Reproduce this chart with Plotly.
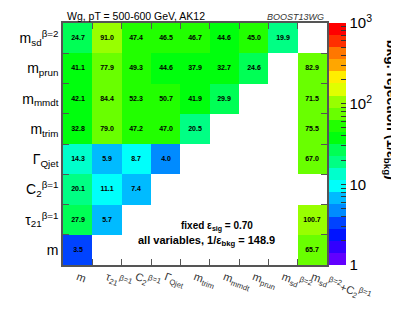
import colorsys
import math
import plotly.graph_objects as go

x_labels = ["m", "τ<sub>21</sub><sup>β=1</sup>", "C<sub>2</sub><sup>β=1</sup>", "Γ<sub>Qjet</sub>",
            "m<sub>trim</sub>", "m<sub>mmdt</sub>", "m<sub>prun</sub>", "m<sub>sd</sub><sup>β=2</sup>",
            "m<sub>sd</sub><sup>β=2</sup>+C<sub>2</sub><sup>β=1</sup>"]
y_labels = ["m", "τ<sub>21</sub><sup>β=1</sup>", "C<sub>2</sub><sup>β=1</sup>", "Γ<sub>Qjet</sub>",
            "m<sub>trim</sub>", "m<sub>mmdt</sub>", "m<sub>prun</sub>", "m<sub>sd</sub><sup>β=2</sup>"]

row_m    = [3.5, None, None, None, None, None, None, None, 65.7]
row_tau  = [27.9, 5.7, None, None, None, None, None, None, 100.7]
row_c2   = [20.1, 11.1, 7.4, None, None, None, None, None, None]
row_qjet = [14.3, 5.9, 8.7, 4.0, None, None, None, None, 67.0]
row_trim = [32.8, 79.0, 47.2, 47.0, 20.5, None, None, None, 75.5]
row_mmdt = [42.1, 84.4, 52.3, 50.7, 41.9, 29.9, None, None, 71.5]
row_prun = [41.1, 77.9, 49.3, 44.6, 37.9, 32.7, 24.6, None, 82.9]
row_sd   = [24.7, 91.0, 47.4, 46.5, 46.7, 44.6, 45.0, 19.9, None]

rows = [row_m, row_tau, row_c2, row_qjet, row_trim, row_mmdt, row_prun, row_sd]

zlog = [[(math.log10(v) if v is not None else None) for v in r] for r in rows]
text = [[(f"<b>{v:.1f}</b>" if v is not None else "") for v in r] for r in rows]

# ROOT "pretty" palette, 20 contour levels
ndiv = 20
scale = []
for i in range(ndiv):
    k = int((i + 0.99) * 50 / ndiv)
    hue = 280 - (k + 1) * 5.6
    r, g, b = colorsys.hls_to_rgb(hue / 360.0, 0.5, 1.0)
    c = f"rgb({int(r*255)},{int(g*255)},{int(b*255)})"
    scale.append([i / ndiv, c])
    scale.append([(i + 1) / ndiv, c])

cb_vals, cb_text = [], []
for d in range(3):
    for m in range(1, 10):
        cb_vals.append(math.log10(m * 10 ** d))
        cb_text.append({1: "1", 10: "10", 100: "10<sup>2</sup>"}.get(m * 10 ** d, "") if m == 1 else "")
cb_vals.append(3.0)
cb_text.append("10<sup>3</sup>")

fig = go.Figure(go.Heatmap(
    x=x_labels, y=y_labels, z=zlog, text=text, texttemplate="%{text}",
    textfont=dict(size=7, color="black", family="Liberation Sans"),
    colorscale=scale, zmin=0, zmax=3, xgap=0, ygap=0, hoverongaps=False,
    colorbar=dict(thickness=17, len=1, lenmode="fraction", y=0.5, yanchor="middle",
                  x=1.008, xanchor="left", xpad=0, ypad=0, outlinewidth=0,
                  tickmode="array", tickvals=cb_vals, ticktext=cb_text,
                  ticks="inside", ticklen=5, tickcolor="#333", tickwidth=1,
                  tickfont=dict(size=15, family="Liberation Sans", color="black")),
))

fig.update_layout(
    width=399, height=309,
    margin=dict(l=52, r=80, t=15, b=41),
    plot_bgcolor="white", paper_bgcolor="white",
    font=dict(family="Liberation Sans", color="black"),
    xaxis=dict(type="category", tickson="boundaries", ticks="inside", ticklen=6,
               tickcolor="#555", showline=True, linecolor="#555", linewidth=1.5,
               mirror="ticks", showgrid=False, tickangle=20,
               tickfont=dict(size=11, color="#333")),
    yaxis=dict(type="category", tickson="boundaries", ticks="inside", ticklen=6,
               tickcolor="#555", showline=True, linecolor="#555", linewidth=1.5,
               mirror="ticks", showgrid=False,
               tickfont=dict(size=14, color="black")),
    annotations=[
        dict(text="Wg, pT = 500-600 GeV, AK12", xref="paper", yref="paper", x=0.277, y=1.028,
             xanchor="center", yanchor="middle", showarrow=False, font=dict(size=10.5)),
        dict(text="<i>BOOST13WG</i>", xref="paper", yref="paper", x=0.88, y=1.024,
             xanchor="center", yanchor="middle", showarrow=False, font=dict(size=9, color="#333")),
        dict(text="<b>fixed ε<sub>sig</sub> = 0.70</b>", xref="paper", yref="paper", x=0.727, y=0.158,
             xanchor="right", yanchor="middle", showarrow=False, font=dict(size=10)),
        dict(text="<b>all variables, 1/ε<sub>bkg</sub> = 148.9</b>", xref="paper", yref="paper",
             x=0.809, y=0.099, xanchor="right", yanchor="middle", showarrow=False, font=dict(size=11)),
        dict(text="<b>bkg. rejection (1/ε<sub>bkg</sub>)</b>", xref="paper", yref="paper",
             x=1.245, y=0.94, xanchor="center", yanchor="top", textangle=90, showarrow=False,
             font=dict(size=14)),
    ],
)

fig.write_html("out.html")
